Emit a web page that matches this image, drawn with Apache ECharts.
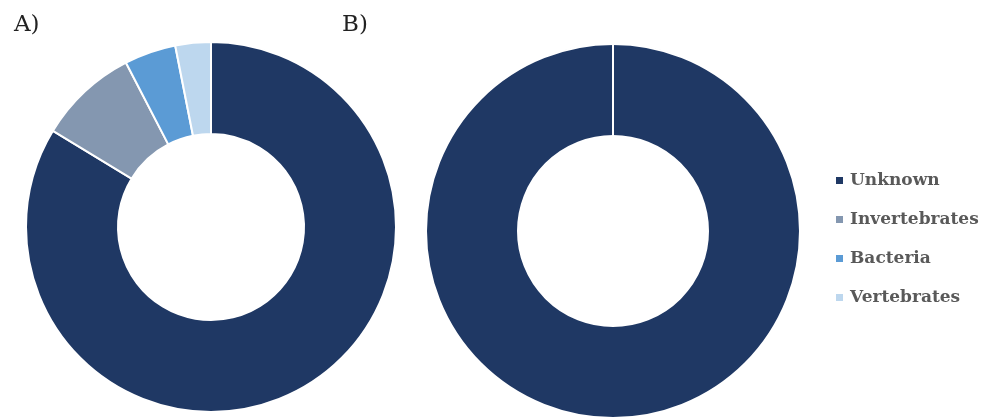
<!DOCTYPE html>
<html>
<head>
<meta charset="utf-8">
<script src="https://cdn.jsdelivr.net/npm/echarts@6/dist/echarts.min.js"></script>
<style>
html,body{margin:0;padding:0;background:#fff;}
#c{width:982px;height:418px;}
</style>
</head>
<body>
<div id="c"></div>
<script>
var categories = ['Unknown', 'Invertebrates', 'Bacteria', 'Vertebrates'];
var colors = ['#1F3864', '#8497B0', '#5B9BD5', '#BDD7EE'];
var valuesA = [83.7, 8.7, 4.5, 3.1];
var valuesB = [100, 0, 0, 0];
var panelLabels = ['A)', 'B)'];

function mk(vals) {
  return categories.map(function (c, i) {
    return { name: c, value: vals[i], itemStyle: { color: colors[i] } };
  });
}

var chart = echarts.init(document.getElementById('c'), null, { renderer: 'canvas' });
chart.setOption({
  animation: false,
  backgroundColor: '#ffffff',
  title: [
    { text: panelLabels[0], left: 9, top: 9, textStyle: { fontFamily: 'DejaVu Serif', fontWeight: 'normal', fontSize: 23, color: '#222' } },
    { text: panelLabels[1], left: 337, top: 9, textStyle: { fontFamily: 'DejaVu Serif', fontWeight: 'normal', fontSize: 23, color: '#222' } }
  ],
  legend: {
    orient: 'vertical',
    left: 829,
    top: 167,
    itemGap: 22,
    itemWidth: 9,
    itemHeight: 9,
    icon: 'rect',
    data: categories,
    textStyle: { fontFamily: 'DejaVu Serif', fontWeight: 'bold', fontSize: 17, color: '#595959', padding: [0, 0, 0, 1] }
  },
  series: [
    {
      type: 'pie',
      center: [211, 227],
      radius: [93, 185],
      startAngle: 90,
      clockwise: true,
      label: { show: false },
      labelLine: { show: false },
      emphasis: { disabled: true },
      itemStyle: { borderColor: '#ffffff', borderWidth: 2 },
      data: mk(valuesA)
    },
    {
      type: 'pie',
      center: [613, 231],
      radius: [95, 187],
      startAngle: 90,
      clockwise: true,
      label: { show: false },
      labelLine: { show: false },
      emphasis: { disabled: true },
      itemStyle: { borderColor: '#ffffff', borderWidth: 2 },
      data: mk(valuesB)
    }
  ]
});
</script>
</body>
</html>
